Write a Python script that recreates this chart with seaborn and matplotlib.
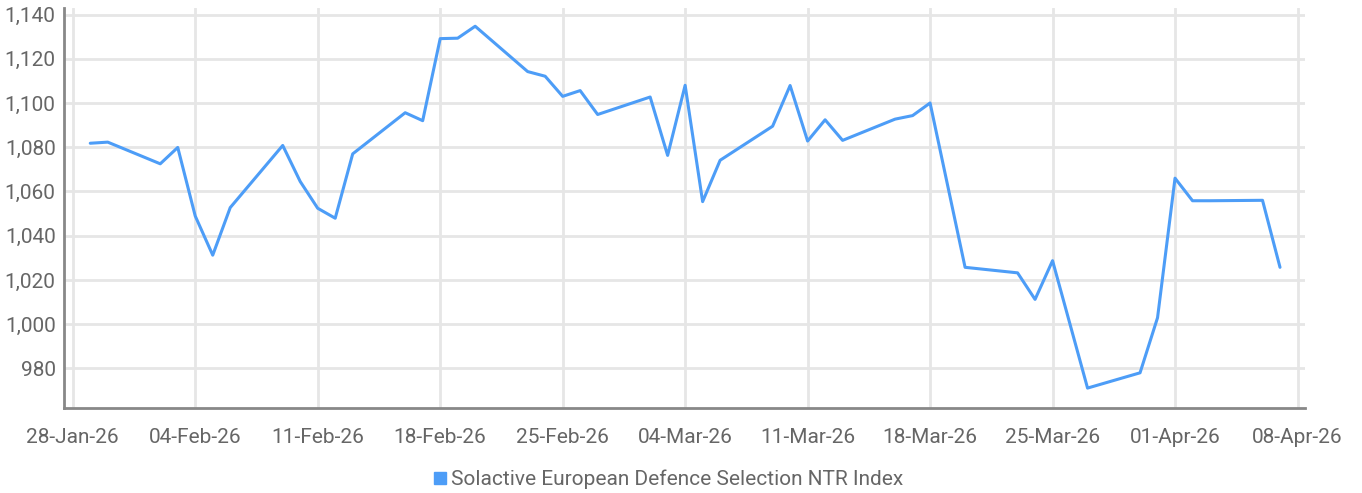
import pandas as pd
import matplotlib
matplotlib.use('Agg')
import matplotlib.pyplot as plt
import matplotlib.dates as mdates
from matplotlib.lines import Line2D
from matplotlib.ticker import FuncFormatter
import seaborn as sns

dates = ['2026-01-29', '2026-01-30', '2026-02-02', '2026-02-03', '2026-02-04', '2026-02-05',
         '2026-02-06', '2026-02-09', '2026-02-10', '2026-02-11', '2026-02-12', '2026-02-13',
         '2026-02-16', '2026-02-17', '2026-02-18', '2026-02-19', '2026-02-20', '2026-02-23',
         '2026-02-24', '2026-02-25', '2026-02-26', '2026-02-27', '2026-03-02', '2026-03-03',
         '2026-03-04', '2026-03-05', '2026-03-06', '2026-03-09', '2026-03-10', '2026-03-11',
         '2026-03-12', '2026-03-13', '2026-03-16', '2026-03-17', '2026-03-18', '2026-03-20',
         '2026-03-23', '2026-03-24', '2026-03-25', '2026-03-27', '2026-03-30', '2026-03-31',
         '2026-04-01', '2026-04-02', '2026-04-03', '2026-04-06', '2026-04-07']
values = [1081.8, 1082.3, 1072.5, 1079.9, 1048.9, 1031.2,
          1052.7, 1080.8, 1064.5, 1052.4, 1047.9, 1077.0,
          1095.6, 1092.0, 1129.1, 1129.3, 1134.7, 1114.2,
          1112.1, 1103.0, 1105.6, 1094.8, 1102.7, 1076.3,
          1108.0, 1055.4, 1074.1, 1089.5, 1107.9, 1082.8,
          1092.4, 1083.1, 1092.7, 1094.3, 1100.0, 1025.7,
          1023.2, 1011.2, 1028.7, 971.1, 978.0, 1002.9,
          1066.0, 1055.8, 1055.8, 1056.0, 1025.7]
series_name = 'Solactive European Defence Selection NTR Index'
tick_dates = pd.date_range('2026-01-28', '2026-04-08', freq='7D')
y_ticks = list(range(980, 1141, 20))

df = pd.DataFrame({'Date': pd.to_datetime(dates), 'Value': values})

sns.set_style('white')
plt.rcParams['font.family'] = ['Liberation Sans Narrow', 'Roboto', 'DejaVu Sans']

line_color = '#4d9df7'
text_color = '#666666'
grid_color = '#e6e6e6'

fig = plt.figure(figsize=(13.62, 4.93), dpi=100)
ax = fig.add_axes([0.047, 0.172, 0.911, 0.812])

sns.lineplot(x='Date', y='Value', data=df, color=line_color, linewidth=2.2, ax=ax)

ax.set_xlim(pd.Timestamp('2026-01-28') - pd.Timedelta(hours=12),
            pd.Timestamp('2026-04-08') + pd.Timedelta(hours=10))
ax.set_ylim(962, 1143)
ax.set_xticks(tick_dates)
ax.xaxis.set_major_formatter(mdates.DateFormatter('%d-%b-%y'))
ax.set_yticks(y_ticks)
ax.yaxis.set_major_formatter(FuncFormatter(lambda v, p: f'{v:,.0f}'))

ax.grid(True, color=grid_color, linewidth=2)
ax.set_axisbelow(True)
ax.tick_params(axis='both', length=0, labelsize=15, colors=text_color)
ax.tick_params(axis='x', pad=14)
ax.tick_params(axis='y', pad=6)
ax.set_xlabel('')
ax.set_ylabel('')

for side in ['top', 'right']:
    ax.spines[side].set_visible(False)
for side in ['left', 'bottom']:
    ax.spines[side].set_color('#888888')
    ax.spines[side].set_linewidth(2)

handle = Line2D([], [], marker='s', linestyle='none', color=line_color, markersize=8)
fig.legend([handle], [series_name], loc='center', bbox_to_anchor=(0.49, 0.028),
           frameon=False, fontsize=15, labelcolor=text_color,
           handletextpad=0.1, handlelength=0.8)

plt.savefig('out.png', dpi=100)
